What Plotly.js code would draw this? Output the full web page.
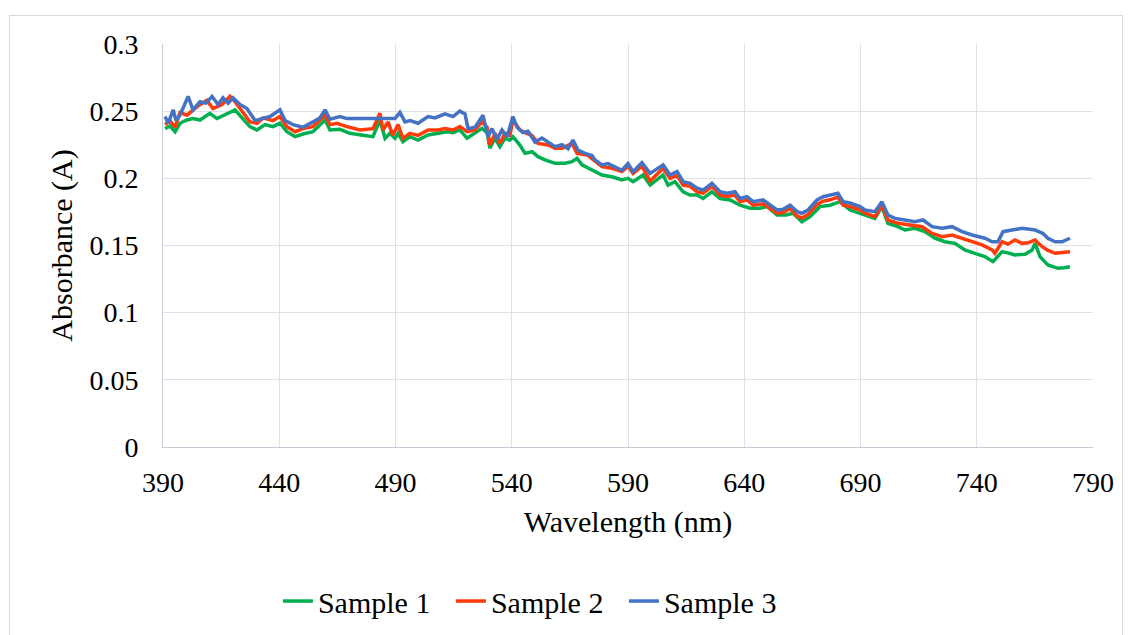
<!DOCTYPE html>
<html>
<head>
<meta charset="utf-8">
<script src="https://cdn.plot.ly/plotly-3.0.1.min.js"></script>
<style>
.js-plotly-plot svg text { font-family: 'Liberation Serif' !important; }
</style>
</head>
<body style="margin:0">
<div id="c1"></div>
<div style="position:absolute;left:9px;top:15px;width:1112px;height:640px;border:1px solid #D9D9D9;pointer-events:none;"></div>
<script>
// Sample 1 (green)
const wl1 = [390.9,393.0,395.2,397.3,400.3,402.9,405.9,410.2,413.2,417.5,421.0,424.0,427.4,430.4,433.9,437.3,440.3,443.3,446.8,450.2,454.5,459.7,461.8,466.1,470.4,476.0,480.3,483.3,485.5,487.6,489.8,491.1,493.2,496.2,499.7,504.0,508.3,512.2,514.7,517.7,520.8,524.2,527.2,529.4,530.6,532.8,534.9,537.1,539.2,540.5,543.5,545.7,548.7,551.3,554.3,558.6,562.9,565.9,568.1,570.2,574.5,578.8,583.1,587.4,590.0,592.2,596.5,599.5,605.1,607.2,610.2,613.7,616.7,619.7,622.3,626.1,629.6,633.9,638.2,642.5,646.8,649.8,654.1,658.0,661.0,664.8,668.3,672.6,676.9,681.2,685.5,689.8,691.9,696.2,699.2,701.8,706.1,709.1,713.4,717.7,722.0,726.3,730.6,734.9,739.2,743.5,747.0,750.9,753.4,756.4,760.8,763.8,765.1,767.2,770.6,774.9,777.5,780.1];
const sample1 = [0.237,0.239,0.2347,0.241,0.2434,0.2445,0.2434,0.2484,0.2445,0.2484,0.251,0.245,0.2385,0.236,0.240,0.2385,0.241,0.2347,0.231,0.233,0.2347,0.2434,0.236,0.2365,0.2335,0.232,0.231,0.2434,0.2298,0.2335,0.2298,0.2335,0.2273,0.231,0.2285,0.2323,0.2335,0.2347,0.234,0.236,0.2298,0.2335,0.2372,0.234,0.2224,0.2298,0.2236,0.2298,0.2285,0.231,0.2248,0.2186,0.2198,0.2161,0.2137,0.2112,0.2112,0.2124,0.2149,0.210,0.2062,0.2025,0.2012,0.1988,0.200,0.1975,0.2025,0.195,0.2025,0.195,0.1975,0.190,0.1876,0.1876,0.185,0.190,0.185,0.1839,0.180,0.1777,0.1777,0.179,0.1727,0.1727,0.174,0.1677,0.1715,0.179,0.180,0.1826,0.1764,0.174,0.173,0.1702,0.179,0.1665,0.164,0.1615,0.1628,0.1603,0.1554,0.1528,0.1516,0.1467,0.1442,0.1417,0.138,0.1454,0.1445,0.143,0.1435,0.1467,0.1516,0.1417,0.1355,0.133,0.1335,0.1342];

// Sample 2 (red)
const wl2 = [390.9,393.0,395.2,397.3,400.3,402.9,405.1,408.9,411.5,415.4,418.8,421.0,424.0,427.4,430.4,433.0,437.3,440.3,443.3,446.8,450.2,454.5,459.7,461.8,464.8,469.1,474.7,480.3,483.3,484.6,486.8,488.9,491.1,493.2,496.2,499.7,504.0,508.3,511.3,514.7,517.7,520.8,524.2,527.2,529.4,530.6,532.8,534.9,537.1,539.2,540.5,543.5,545.7,548.7,551.3,555.6,558.6,561.6,565.9,568.1,572.4,575.8,578.8,583.1,587.4,590.0,592.2,596.0,599.5,605.1,608.1,611.1,613.7,616.7,619.7,622.3,626.1,629.6,632.6,636.0,638.2,641.2,643.8,648.1,651.1,654.1,656.7,659.7,662.7,664.8,667.4,671.3,673.9,676.9,680.3,682.5,685.5,689.8,691.9,696.2,699.2,701.8,706.1,712.2,716.5,720.8,725.1,729.4,733.7,738.0,742.3,746.6,747.8,750.9,753.4,756.4,759.5,762.0,765.1,767.2,770.2,773.7,776.7,780.1];
const sample2 = [0.240,0.243,0.238,0.249,0.247,0.251,0.254,0.258,0.252,0.255,0.261,0.257,0.250,0.242,0.241,0.245,0.243,0.246,0.2385,0.2347,0.237,0.2385,0.247,0.240,0.241,0.2385,0.236,0.237,0.2484,0.236,0.242,0.232,0.240,0.2298,0.2335,0.232,0.236,0.236,0.237,0.236,0.2385,0.2347,0.236,0.242,0.238,0.2248,0.2335,0.226,0.2335,0.232,0.2434,0.236,0.234,0.232,0.226,0.2248,0.2224,0.2224,0.226,0.2186,0.2174,0.2124,0.2087,0.2075,0.205,0.209,0.2037,0.209,0.198,0.2075,0.200,0.202,0.195,0.194,0.190,0.189,0.194,0.1875,0.1865,0.1875,0.1825,0.184,0.180,0.181,0.1775,0.174,0.1745,0.1775,0.172,0.1705,0.173,0.1805,0.183,0.184,0.186,0.180,0.179,0.1765,0.174,0.1715,0.180,0.169,0.1665,0.1653,0.164,0.159,0.1566,0.1578,0.1554,0.1528,0.1504,0.1467,0.1442,0.1528,0.151,0.1541,0.1516,0.152,0.1541,0.1504,0.1467,0.1442,0.1445,0.1454];

// Sample 3 (blue)
const wl3 = [390.9,392.2,394.4,395.6,397.3,400.8,402.9,405.9,408.5,411.1,413.7,415.8,418.0,420.1,423.1,426.1,429.6,431.7,436.0,440.3,442.5,445.9,450.2,454.5,457.5,459.7,461.8,466.1,469.1,489.8,491.9,494.1,496.2,499.7,504.0,507.0,511.3,514.7,517.7,519.9,521.2,524.2,526.3,527.6,529.8,531.5,533.7,535.8,538.0,540.5,542.3,544.8,547.0,550.0,553.0,555.6,558.6,561.6,564.2,566.3,568.5,571.5,574.5,575.8,578.8,581.4,584.4,587.4,590.0,592.2,596.0,599.5,605.1,608.1,611.1,613.7,616.7,619.7,622.3,626.1,629.6,632.6,636.0,638.2,641.2,643.8,648.1,651.1,654.1,656.7,659.7,662.7,664.8,667.4,671.3,673.9,676.9,680.3,682.5,685.5,689.8,691.9,696.2,699.2,701.8,704.8,709.1,713.4,716.9,720.8,725.1,729.4,733.7,738.0,743.5,746.6,749.1,751.3,755.2,759.5,765.1,768.5,770.6,773.7,776.7,780.1];
const sample3 = [0.246,0.241,0.251,0.243,0.247,0.261,0.251,0.257,0.256,0.261,0.255,0.260,0.256,0.260,0.255,0.252,0.243,0.244,0.246,0.251,0.243,0.240,0.238,0.242,0.245,0.251,0.244,0.246,0.2445,0.2445,0.249,0.242,0.243,0.241,0.246,0.245,0.248,0.246,0.250,0.248,0.237,0.238,0.243,0.247,0.231,0.237,0.229,0.236,0.231,0.246,0.238,0.234,0.235,0.227,0.230,0.227,0.2236,0.225,0.222,0.2285,0.221,0.2186,0.217,0.2137,0.210,0.211,0.2087,0.206,0.211,0.205,0.2117,0.2037,0.210,0.2025,0.205,0.1975,0.1963,0.1926,0.1913,0.1963,0.190,0.1889,0.190,0.185,0.1863,0.1826,0.1839,0.180,0.1764,0.177,0.180,0.1752,0.174,0.1764,0.1839,0.1863,0.1876,0.1889,0.1826,0.1816,0.179,0.1764,0.1752,0.1826,0.1727,0.1702,0.169,0.1677,0.169,0.164,0.1628,0.164,0.1603,0.1578,0.1554,0.1528,0.1528,0.1603,0.1615,0.1628,0.1615,0.159,0.1554,0.1528,0.1528,0.1554];

const seriesNames = ['Sample 1','Sample 2','Sample 3'];
const seriesColors = ['#00B050','#FF3B0A','#4472C4'];
const xTicks = [390,440,490,540,590,640,690,740,790];
const yTicks = [0,0.05,0.1,0.15,0.2,0.25,0.3];
const yTickText = ['0','0.05','0.1','0.15','0.2','0.25','0.3'];

const xs = [wl1, wl2, wl3];
const ys = [sample1, sample2, sample3];
const traces = xs.map((x, i) => ({
  x: x, y: ys[i], type: 'scatter', mode: 'lines', name: seriesNames[i],
  line: {color: seriesColors[i], width: 3.5}
}));

Plotly.newPlot('c1', traces, {
  width: 1132, height: 635,
  margin: {l: 163, r: 39, t: 44, b: 188},
  font: {family: 'Liberation Serif', size: 28, color: '#000'},
  showlegend: true,
  legend: {orientation: 'h', xref: 'container', yref: 'container', x: 0.2455, y: 0.0535,
           xanchor: 'left', yanchor: 'middle', font: {size: 30},
           entrywidth: 128, traceorder: 'normal'},
  xaxis: {range: [390, 790], tickvals: xTicks, ticktext: xTicks.map(String),
          gridcolor: '#DDE1E8', showline: true, linecolor: '#C5CCD8', linewidth: 1,
          zeroline: false, ticks: 'outside', ticklen: 10, tickcolor: 'rgba(0,0,0,0)',
          tickfont: {size: 28},
          title: {text: 'Wavelength (nm)', font: {size: 30}, standoff: 14}},
  yaxis: {range: [0, 0.3], tickvals: yTicks, ticktext: yTickText,
          gridcolor: '#DDE1E8', showline: true, linecolor: '#C5CCD8', linewidth: 1,
          zeroline: false, ticks: 'outside', ticklen: 18, tickcolor: 'rgba(0,0,0,0)',
          tickfont: {size: 28},
          title: {text: 'Absorbance (A)', font: {size: 30}, standoff: 7}}
}, {displayModeBar: false});
</script>
</body>
</html>
